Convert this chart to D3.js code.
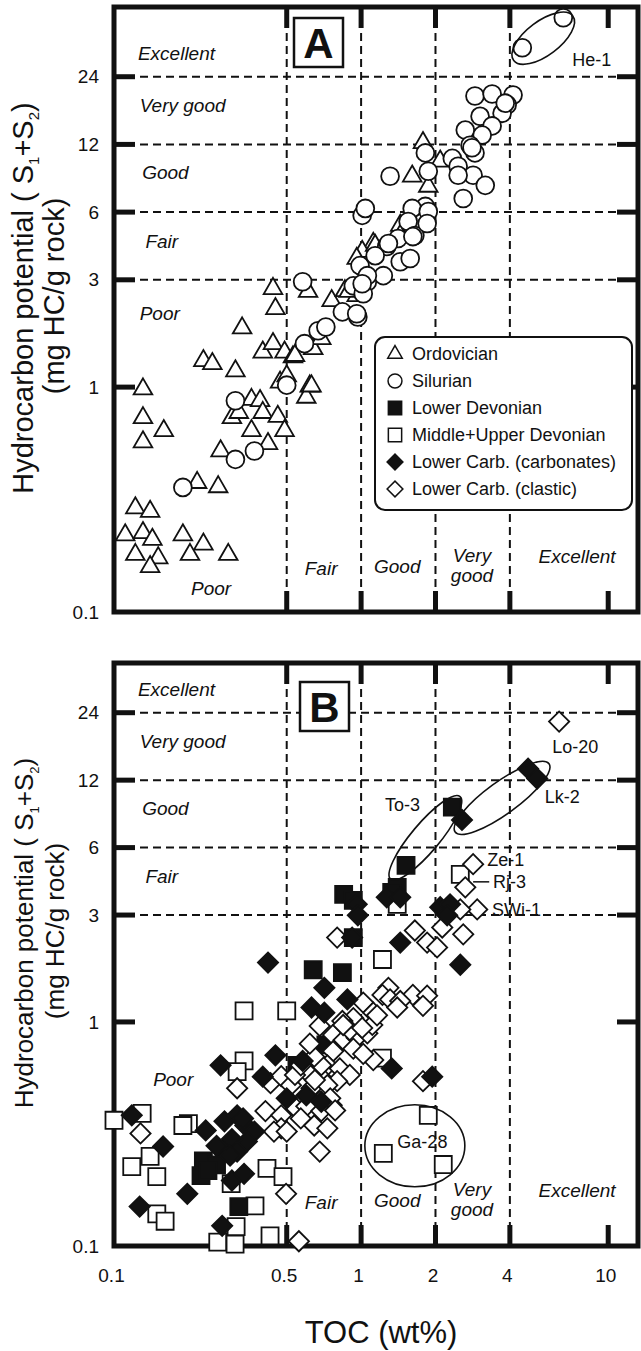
<!DOCTYPE html>
<html>
<head>
<meta charset="utf-8">
<script src="https://cdn.jsdelivr.net/npm/d3@7"></script>
<style>
  body { margin: 0; background: #fff; }
  svg text { font-family: "Liberation Sans", Arial, sans-serif; fill: #111; }
  .qual { font-style: italic; font-size: 19px; }
  .tick text { font-size: 19px; }
</style>
</head>
<body>
<svg id="chart" width="641" height="1351"></svg>
<script>
// ---- axis ticks / guides ----
var xTicks = [0.1, 0.5, 1, 2, 4, 10];
var yTicks = [0.1, 1, 3, 6, 12, 24];
var xGrid = [0.5, 1, 2, 4];
var yGrid = [3, 6, 12, 24];
var xMarks = [0.5, 1, 2, 4, 10];
var yMarks = [1, 3, 6, 12, 24];

// ---- panel A : [TOC wt%, S1+S2 mg HC/g rock] ----
var ordovician = [[0.44,2.74],[0.45,2.23],[0.33,1.83],[0.23,1.31],[0.25,1.27],[0.31,1.18],
  [0.131,0.98],[0.131,0.73],[0.159,0.64],[0.131,0.57],
  [0.40,1.43],[0.44,1.56],[0.49,1.43],[0.53,1.36],[0.47,1.05],[0.50,1.12],[0.62,1.01],[0.60,0.90],
  [0.36,0.88],[0.39,0.87],[0.40,0.77],[0.30,0.73],[0.32,0.77],[0.46,0.74],[0.49,0.64],[0.36,0.64],
  [0.42,0.56],[0.27,0.52],[0.217,0.376],[0.264,0.36],
  [0.122,0.29],[0.14,0.28],[0.111,0.22],[0.131,0.225],[0.143,0.21],[0.122,0.18],[0.151,0.174],[0.14,0.159],
  [0.19,0.22],[0.23,0.20],[0.203,0.18],[0.29,0.18],
  [0.76,2.42],[0.86,2.68],[0.96,2.55],[1.12,4.35],[1.01,4.01],[0.64,1.48],[0.54,1.38],[0.63,1.01],[0.61,2.66],
  [1.78,12.2],[1.61,8.66],[1.87,7.81],[2.09,10.1],[1.44,5.23],[1.44,4.72],[1.14,4.26],[0.96,3.73],[0.89,2.66],[0.69,1.64]];

var silurian = [[0.19,0.358],[0.31,0.477],[0.37,0.52],[0.31,0.87],[0.50,1.02],[0.59,1.56],[0.67,1.78],[0.58,2.94],
  [0.84,2.16],[0.97,2.05],[0.72,1.85],[0.99,3.47],[1.06,2.94],[0.93,2.82],[1.02,2.60],[1.01,5.8],[1.04,6.23],
  [2.89,19.7],[3.39,20.1],[4.12,19.9],[3.90,18.0],[3.72,16.5],[3.03,16.0],[3.39,14.5],[2.64,13.9],[3.09,13.2],
  [2.76,11.9],[2.89,11.0],[2.34,10.4],[2.47,9.6],[2.84,8.75],[3.18,7.89],[2.59,6.9],[1.31,8.66],[1.82,11.0],
  [1.87,9.12],[1.82,6.36],[1.61,6.23],[1.55,5.45],[1.65,4.72],[1.41,4.58],[1.27,4.22],[1.14,3.84],[1.44,3.61],
  [1.58,3.73],[1.23,3.13],[1.06,3.13],[1.01,2.88],[0.96,2.12],[1.87,6.04],[1.85,5.34],[1.62,4.67],[1.29,4.35],
  [3.83,18.3],[2.81,11.6],[2.47,8.75],
  [4.49,32.3],[6.58,43.9]];

// ---- panel B ----
var lowerDevonian = [[2.34,9.1],[1.52,5.0],[1.40,3.99],[1.33,3.79],[0.85,3.71],[0.93,3.49],[0.93,2.38],
  [0.64,1.71],[0.84,1.66],[0.72,0.79],[0.55,0.64],[0.23,0.24],[0.28,0.27],[0.26,0.23],[0.225,0.206],
  [0.24,0.217],[0.32,0.15]];

var midUpperDevonian = [[0.336,1.12],[0.50,1.12],[1.22,1.90],[0.336,0.67],[0.315,0.60],[1.22,0.69],
  [1.87,0.383],[1.23,0.259],[2.15,0.231],[2.52,4.56],[1.40,3.35],[0.1,0.364],[0.13,0.391],[0.118,0.226],
  [0.14,0.251],[0.149,0.204],[0.149,0.139],[0.161,0.129],[0.20,0.352],[0.19,0.345],[0.372,0.151],
  [0.263,0.104],[0.309,0.102],[0.428,0.111],[0.416,0.222],[0.483,0.204],[0.312,0.122],[0.298,0.19]];

var carbClastic = [[6.33,21.9],[2.84,5.06],[2.64,3.99],[2.95,3.18],[2.52,3.18],[2.13,2.64],[2.59,2.46],
  [1.65,2.56],[1.85,2.26],[2.03,2.15],[0.80,2.38],[1.29,1.42],[1.22,1.32],[1.31,1.26],[1.62,1.32],[1.85,1.31],
  [1.78,1.18],[1.44,1.24],[1.02,1.22],[1.12,1.10],[0.93,1.04],[0.84,1.01],[0.68,0.96],[0.77,0.875],[0.85,0.83],
  [0.96,0.85],[1.06,0.89],[1.11,0.97],[0.90,0.92],[1.40,1.16],[1.16,1.07],[0.77,0.74],[0.65,0.67],[0.73,0.64],
  [0.82,0.62],[0.90,0.58],[0.715,0.544],[0.80,0.544],[0.63,0.506],[0.68,0.442],[0.76,0.425],[1.12,0.676],
  [1.78,0.544],[0.315,0.506],[0.43,0.533],[0.475,0.573],[0.52,0.522],[0.60,0.603],[0.69,0.641],[0.73,0.522],
  [0.65,0.55],[0.41,0.40],[0.475,0.383],[0.546,0.411],[0.60,0.42],[0.69,0.40],[0.475,0.335],[0.57,0.371],
  [0.646,0.345],[0.73,0.335],[0.75,0.456],[0.785,0.403],[0.68,0.264],[0.444,0.324],[0.50,0.324],[0.497,0.171],
  [0.56,0.105],[0.128,0.318],[0.846,0.969],[1.01,0.94],[0.646,0.70],[0.54,0.58],[0.57,0.64],
  [0.62,0.80],[0.93,0.76],[1.02,0.72]];

var carbCarbonate = [[4.74,13.5],[5.16,12.2],[2.56,7.97],[1.27,3.60],[1.44,3.60],[0.96,3.35],[0.97,2.99],
  [2.09,3.25],[2.29,3.35],[2.23,2.99],[0.92,2.38],[1.44,2.26],[2.52,1.80],[0.42,1.84],[0.71,1.42],[0.63,1.16],
  [0.71,1.10],[0.88,1.26],[0.58,0.67],[0.45,0.71],[0.27,0.64],[0.40,0.57],[1.33,0.62],[1.94,0.57],[0.50,0.456],
  [0.60,0.47],[0.69,0.44],[0.118,0.383],[0.158,0.278],[0.235,0.328],[0.28,0.36],[0.315,0.383],[0.34,0.345],
  [0.37,0.324],[0.345,0.293],[0.30,0.30],[0.26,0.28],[0.315,0.264],[0.295,0.253],[0.30,0.196],[0.336,0.21],
  [0.198,0.171],[0.127,0.15],[0.274,0.123],[0.333,0.371]];

// legend entries
var legendNames = ['Ordovician', 'Silurian', 'Lower Devonian', 'Middle+Upper Devonian',
  'Lower Carb. (carbonates)', 'Lower Carb. (clastic)'];
var legendTypes = ['triangle', 'circle', 'fsquare', 'osquare', 'fdiamond', 'odiamond'];

// quality classes [text, TOC, S1+S2]
var qualLeft = [['Excellent', 0.125, 28.5], ['Very good', 0.127, 16.7], ['Good', 0.13, 8.4], ['Fair', 0.134, 4.15]];
var qualBottom = [['Fair', 0.689, 0.146], ['Good', 1.40, 0.149], ['Very', 2.81, 0.167], ['good', 2.81, 0.136],
  ['Excellent', 7.48, 0.165]];

// well annotations
var wellsA = [{name: 'He-1', x: 5.46, y: 35.6, rx: 37, ry: 17, rot: -37, lx: 7.15, ly: 26.7, anchor: 'start'}];
var wellsB = [
  {name: 'To-3', x: 1.82, y: 6.63, rx: 54, ry: 14, rot: -50, lx: 1.47, ly: 8.75, anchor: 'middle'},
  {name: 'Lk-2', x: 3.72, y: 10.0, rx: 58, ry: 16, rot: -36, lx: 6.51, ly: 9.5, anchor: 'middle'},
  {name: 'Ga-28', x: 1.65, y: 0.28, rx: 50, ry: 41, rot: 0, lx: 1.77, ly: 0.274, anchor: 'middle'}];
var sampleLabels = [['Lo-20', 7.35, 15.9, 'middle'], ['Ze-1', 3.24, 4.97, 'start'], ['Rj-3', 3.42, 3.96, 'start'],
  ['SWi-1', 3.39, 2.97, 'start']];

var svg = d3.select('#chart');
var x = d3.scaleLog().domain([0.1, 13.2]).range([114, 638]);

function symbolPath(type, scale) {
    var s = scale || 1;
    if (type === 'triangle') return d3.symbol(d3.symbolTriangle, 150 * s * s)();
    if (type === 'circle') return d3.symbol(d3.symbolCircle, 250 * s * s)();
    if (type === 'fsquare' || type === 'osquare') return d3.symbol(d3.symbolSquare, 290 * s * s)();
    return d3.symbol(d3.symbolSquare, 205 * s * s)();
}

function drawMarks(g, y, data, type) {
    var filled = (type === 'fsquare' || type === 'fdiamond');
    var rot = (type === 'fdiamond' || type === 'odiamond') ? ' rotate(45)' : '';
    g.append('g').selectAll('path')
        .data(data)
        .enter().append('path')
        .attr('d', symbolPath(type))
        .attr('transform', function(d) {
            return 'translate(' + x(d[0]) + ',' + y(d[1]) + ')' + rot;
        })
        .style('fill', filled ? '#111' : '#fff')
        .style('stroke', '#111')
        .style('stroke-width', 1.8);
}

function drawPanel(cfg) {
    var g = svg.append('g');
    var y = d3.scaleLog().domain(cfg.yDomain).range(cfg.yRange);
    var left = x.range()[0], right = x.range()[1];
    var top = cfg.yRange[1], bottom = cfg.yRange[0];

    // dashed class boundaries
    g.selectAll('.vgrid')
        .data(xGrid)
        .enter().append('line')
        .attr('x1', function(d) { return x(d); })
        .attr('x2', function(d) { return x(d); })
        .attr('y1', top).attr('y2', bottom)
        .style('stroke', '#111').style('stroke-width', 2).style('stroke-dasharray', '8,5');
    g.selectAll('.hgrid')
        .data(yGrid)
        .enter().append('line')
        .attr('x1', left).attr('x2', right)
        .attr('y1', function(d) { return y(d); })
        .attr('y2', function(d) { return y(d); })
        .style('stroke', '#111').style('stroke-width', 2).style('stroke-dasharray', '8,5');

    // quality labels
    qualLeft.forEach(function(q) {
        g.append('text').attr('class', 'qual').attr('x', x(q[1])).attr('y', y(q[2])).text(q[0]);
    });
    qualBottom.forEach(function(q) {
        g.append('text').attr('class', 'qual').attr('x', x(q[1])).attr('y', y(q[2]))
            .style('text-anchor', 'middle').text(q[0]);
    });
    cfg.poor.forEach(function(q) {
        g.append('text').attr('class', 'qual').attr('x', x(q[0])).attr('y', y(q[1]))
            .style('text-anchor', q[2]).text('Poor');
    });

    // panel letter
    g.append('rect')
        .attr('x', cfg.letterX).attr('y', cfg.letterY).attr('width', 49).attr('height', 49)
        .style('fill', '#fff').style('stroke', '#111').style('stroke-width', 2.5);
    g.append('text')
        .attr('x', cfg.letterX + 24.5).attr('y', cfg.letterY + 40)
        .style('text-anchor', 'middle').style('font-size', '42px').style('font-weight', 'bold')
        .text(cfg.letter);

    // frame + ticks
    g.append('rect')
        .attr('x', left).attr('y', top).attr('width', right - left).attr('height', bottom - top)
        .style('fill', 'none').style('stroke', '#111').style('stroke-width', 5);
    var tickLen = 21;
    g.selectAll('.xt')
        .data(xMarks.concat(xMarks))
        .enter().append('line')
        .attr('x1', function(d) { return x(d); })
        .attr('x2', function(d) { return x(d); })
        .attr('y1', function(d, i) { return i < xMarks.length ? top : bottom; })
        .attr('y2', function(d, i) { return i < xMarks.length ? top + tickLen : bottom - tickLen; })
        .style('stroke', '#111').style('stroke-width', 5);
    g.selectAll('.yt')
        .data(yMarks.concat(yMarks))
        .enter().append('line')
        .attr('y1', function(d) { return y(d); })
        .attr('y2', function(d) { return y(d); })
        .attr('x1', function(d, i) { return i < yMarks.length ? left : right; })
        .attr('x2', function(d, i) { return i < yMarks.length ? left + tickLen : right - tickLen; })
        .style('stroke', '#111').style('stroke-width', 5);

    // y tick labels
    var yAxis = d3.axisLeft(y).tickValues(yTicks).tickSize(0).tickPadding(15).tickFormat(d3.format(''));
    g.append('g').attr('transform', 'translate(' + left + ',0)').call(yAxis)
        .call(function(a) { a.select('.domain').remove(); });

    // y title
    var fs = cfg.titleSize, sub = Math.round(fs * 0.5);
    var t1 = g.append('text')
        .attr('transform', 'translate(33,' + cfg.titleY + ') rotate(-90)')
        .style('text-anchor', 'middle').style('font-size', fs + 'px');
    t1.append('tspan').text('Hydrocarbon potential ( S');
    t1.append('tspan').attr('dy', 6).style('font-size', sub + 'px').text('1');
    t1.append('tspan').attr('dy', -6).text('+S');
    t1.append('tspan').attr('dy', 6).style('font-size', sub + 'px').text('2');
    t1.append('tspan').attr('dy', -6).text(')');
    g.append('text')
        .attr('transform', 'translate(64,' + cfg.title2Y + ') rotate(-90)')
        .style('text-anchor', 'middle').style('font-size', fs + 'px')
        .text('(mg HC/g rock)');

    // marks
    cfg.series.forEach(function(s) { drawMarks(g, y, s[0], s[1]); });

    // well ellipses
    cfg.wells.forEach(function(w) {
        g.append('ellipse')
            .attr('transform', 'translate(' + x(w.x) + ',' + y(w.y) + ') rotate(' + w.rot + ')')
            .attr('rx', w.rx).attr('ry', w.ry)
            .style('fill', 'none').style('stroke', '#111').style('stroke-width', 1.6);
        g.append('text').attr('x', x(w.lx)).attr('y', y(w.ly))
            .style('text-anchor', w.anchor).style('font-size', '18px').text(w.name);
    });

    return {g: g, y: y};
}

var A = drawPanel({
    yDomain: [0.1, 49], yRange: [612, 7], letter: 'A', letterX: 294, letterY: 18,
    titleY: 298, title2Y: 296, titleSize: 29,
    poor: [[0.127, 1.99, 'start'], [0.247, 0.119, 'middle']],
    series: [[ordovician, 'triangle'], [silurian, 'circle']],
    wells: wellsA
});

var B = drawPanel({
    yDomain: [0.1, 40], yRange: [1246, 663], letter: 'B', letterX: 300, letterY: 682,
    titleY: 933, title2Y: 931, titleSize: 26,
    poor: [[0.144, 0.52, 'start']],
    series: [[midUpperDevonian, 'osquare'], [lowerDevonian, 'fsquare'],
             [carbClastic, 'odiamond'], [carbCarbonate, 'fdiamond']],
    wells: wellsB
});

// sample labels in B
sampleLabels.forEach(function(s) {
    B.g.append('text').attr('x', x(s[1])).attr('y', B.y(s[2]))
        .style('text-anchor', s[3]).style('font-size', '18px').text(s[0]);
});
B.g.append('line')
    .attr('x1', x(2.84)).attr('x2', x(3.3))
    .attr('y1', B.y(4.22)).attr('y2', B.y(4.22))
    .style('stroke', '#111').style('stroke-width', 1.5);

// legend (panel A)
var legend = A.g.append('g').attr('transform', 'translate(375,337)');
legend.append('rect')
    .attr('width', 257).attr('height', 173).attr('rx', 10)
    .style('fill', '#fff').style('stroke', '#111').style('stroke-width', 2);
var rows = legend.selectAll('.row')
    .data(legendNames)
    .enter().append('g')
    .attr('transform', function(d, i) { return 'translate(20,' + (17 + i * 27) + ')'; });
rows.append('path')
    .attr('d', function(d, i) { return symbolPath(legendTypes[i], 0.78); })
    .attr('transform', function(d, i) { return legendTypes[i].charAt(1) === 'd' ? 'rotate(45)' : ''; })
    .style('fill', function(d, i) { return legendTypes[i].charAt(0) === 'f' ? '#111' : '#fff'; })
    .style('stroke', '#111').style('stroke-width', 1.5);
rows.append('text')
    .attr('x', 17).attr('y', 6)
    .style('font-size', '18px')
    .text(function(d) { return d; });

// x axis (bottom of panel B)
var xAxis = d3.axisBottom(x).tickValues(xTicks).tickSize(0).tickPadding(23).tickFormat(d3.format(''));
svg.append('g').attr('transform', 'translate(-3,1246)').call(xAxis)
    .call(function(a) { a.select('.domain').remove(); });
svg.append('text')
    .attr('x', 381).attr('y', 1343)
    .style('text-anchor', 'middle').style('font-size', '31px')
    .text('TOC (wt%)');
</script>
</body>
</html>
